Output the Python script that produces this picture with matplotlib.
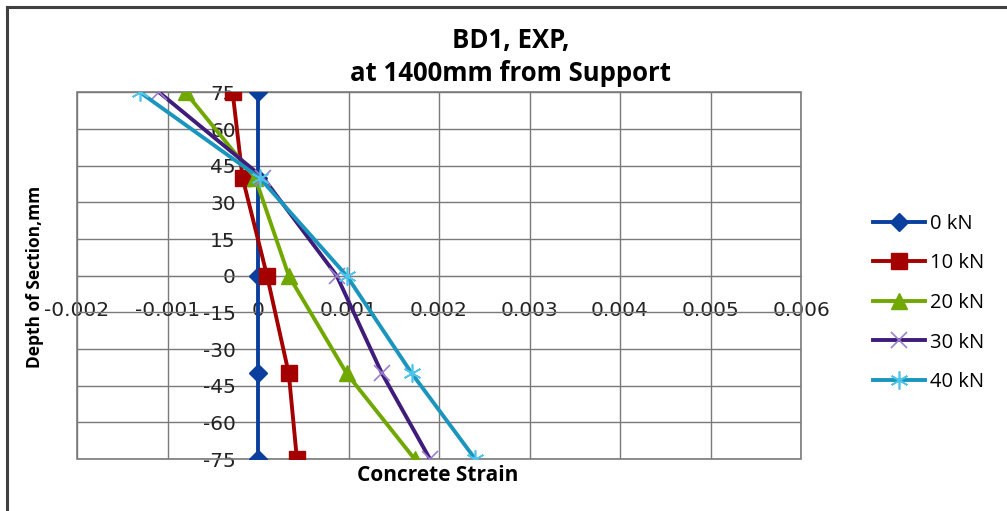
import numpy as np
import matplotlib
matplotlib.use("Agg")
import matplotlib.pyplot as plt
from matplotlib.patches import Rectangle
from matplotlib.lines import Line2D

plt.rcParams['font.family'] = ['Open Sans', 'DejaVu Sans']
plt.rcParams['axes.unicode_minus'] = False

# data
depth = [75, 40, 0, -40, -75]
strain_0kN = [0.0, 0.0, 0.0, 0.0, 0.0]
strain_10kN = [-0.00028, -0.00017, 0.0001, 0.00034, 0.00043]
strain_20kN = [-0.0008, -0.00003, 0.00034, 0.00098, 0.00173]
strain_30kN = [-0.00109, 0.00006, 0.00087, 0.00137, 0.0019]
strain_40kN = [-0.0013, 0.00002, 0.00098, 0.0017, 0.0024]
labels = ['0 kN', '10 kN', '20 kN', '30 kN', '40 kN']

xticks = [-0.002, -0.001, 0, 0.001, 0.002, 0.003, 0.004, 0.005, 0.006]
xtick_labels = ['-0.002', '-0.001', '0', '0.001', '0.002', '0.003', '0.004', '0.005', '0.006']
yticks = [75, 60, 45, 30, 15, 0, -15, -30, -45, -60, -75]

fig = plt.figure(figsize=(10.07, 5.11), dpi=100)
ax = fig.add_axes([77/1007, 1-459/511, 724/1007, 366.5/511])

lw = 2.8
ax.plot(strain_0kN, depth, color='#0B3F9E', lw=lw, marker='D', ms=9,
        mfc='#0B3F9E', mec='#0B3F9E', label=labels[0], zorder=3)
ax.plot(strain_10kN, depth, color='#A50000', lw=lw, marker='s', ms=11,
        mfc='#A50000', mec='#A50000', label=labels[1], zorder=3)
ax.plot(strain_20kN, depth, color='#70A800', lw=lw, marker='^', ms=12,
        mfc='#70A800', mec='#70A800', label=labels[2], zorder=3)
ax.plot(strain_30kN, depth, color='#3F1C7A', lw=lw, marker='x', ms=12,
        mec='#9B7FD0', mew=1.2, label=labels[3], zorder=3)
ax.plot(strain_40kN, depth, color='#1A95BE', lw=lw, marker=(6, 2, 0), ms=13,
        mec='#4FC4EA', mew=1.2, label=labels[4], zorder=3)

ax.set_xlim(-0.002, 0.006)
ax.set_ylim(-75, 75)
ax.set_xticks(xticks)
ax.set_xticklabels(xtick_labels)
ax.set_yticks(yticks)
ax.grid(True, color='#7a7a7a', lw=1)
ax.set_axisbelow(True)

for s in ['top', 'right']:
    ax.spines[s].set_visible(False)
ax.spines['left'].set_position(('data', 0))
ax.spines['bottom'].set_position(('data', 0))
ax.spines['left'].set_color('#7a7a7a')
ax.spines['bottom'].set_color('#7a7a7a')
ax.tick_params(length=0, labelsize=14.5, colors='#222222', labelfontfamily='DejaVu Sans')
ax.tick_params(axis='y', pad=16)
ax.tick_params(axis='x', pad=18)
ax.add_patch(Rectangle((0, 0), 1, 1, transform=ax.transAxes, fill=False,
                       ec='#7a7a7a', lw=1.2, clip_on=False, zorder=1))

fig.text(511/1007, 1-57/511, 'BD1, EXP,\nat 1400mm from Support', ha='center',
         va='center', fontsize=18.5, fontweight='bold', linespacing=1.3)
fig.text(438/1007, 1-475/511, 'Concrete Strain', ha='center', va='center',
         fontsize=15, fontweight='bold')
fig.text(35/1007, 1-277/511, 'Depth of Section,mm', ha='center', va='center',
         rotation=90, fontsize=12.5, fontweight='bold')

leg = fig.legend(loc='center left', bbox_to_anchor=(855/1007, 1-303/511), frameon=False,
                 fontsize=14.5, handlelength=2.6, labelspacing=0.97, handletextpad=0.2)

fig.add_artist(Line2D([7/1007, 1], [1-7/511, 1-7/511], color='#404040', lw=2.2))
fig.add_artist(Line2D([7/1007, 7/1007], [0, 1-7/511], color='#404040', lw=2.2))

fig.savefig('out.png', dpi=100)
